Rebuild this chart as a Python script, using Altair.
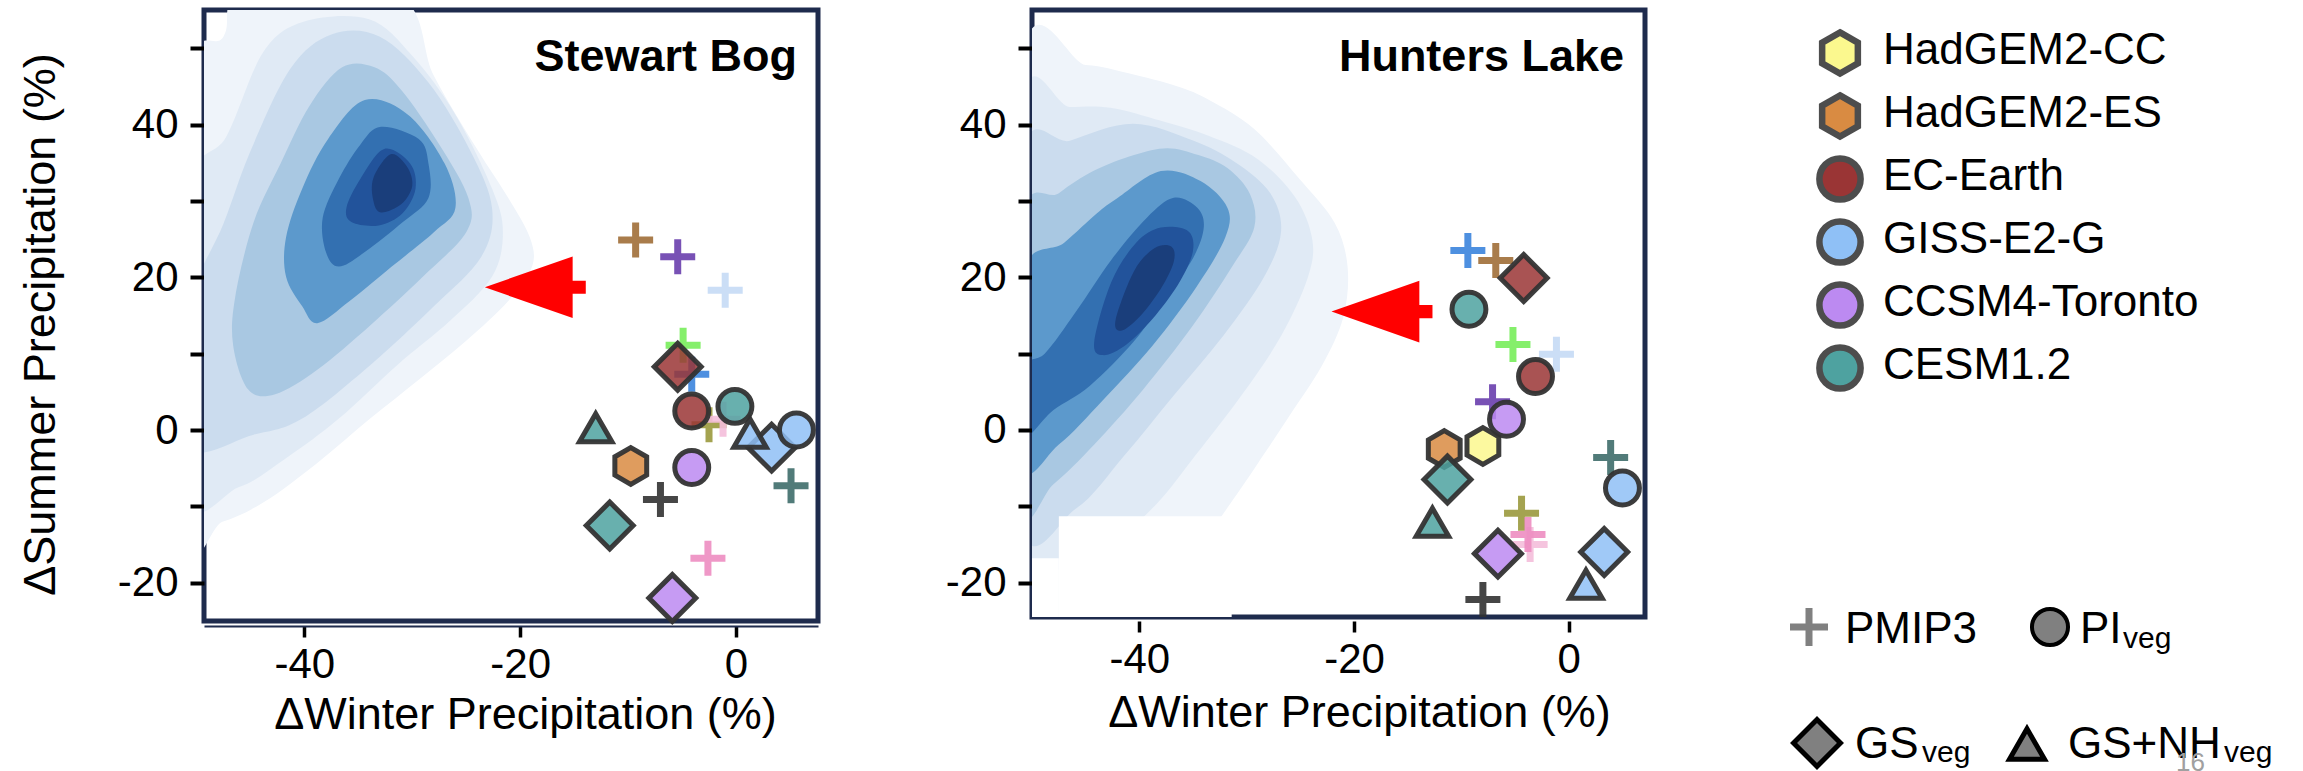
import altair as alt
import pandas as pd

FONT = "Liberation Sans"
FRAME = "#1e2b4d"
INK = "#000000"
OUTLINE = "#333333"

# Coupled-model simulations: fill colour identifies the model
MODELS = ["HadGEM2-CC", "HadGEM2-ES", "EC-Earth", "GISS-E2-G", "CCSM4-Toronto", "CESM1.2"]
MODEL_COLORS = ["#fbf88e", "#d98b42", "#9a3535", "#8fc0f6", "#bc8af1", "#4ea2a0"]

# PMIP3 ensemble members, one colour each
PMIP3_COLORS = ["#a06e38", "#6a3fae", "#c6dbf6", "#78ee5c", "#3b84dd",
                "#9b9a3e", "#f5bedb", "#ee8dc2", "#3f6d6b", "#333333"]
PMIP3_MEMBERS = [f"member {i + 1}" for i in range(len(PMIP3_COLORS))]

# Marker symbols
HEXAGON = "M0,-1L0.866,-0.5L0.866,0.5L0,1L-0.866,0.5L-0.866,-0.5Z"
PLUS = "M-1,0H1M0,-1V1"
ARROW = "M-1,0L0.74,-0.61L0.74,-0.13L1,-0.13L1,0.13L0.74,0.13L0.74,0.61Z"
SYMBOLS = ["hexagon", "circle", "diamond", "triangle"]
SYMBOL_SHAPES = [HEXAGON, "circle", "diamond", "triangle-up"]
SYMBOL_SIZES = [1350, 1150, 2200, 1050]

# Density levels of the proxy reconstruction (outer -> inner)
LEVELS = ["L1", "L2", "L3", "L4", "L5", "L6", "L7", "L8"]
LEVEL_COLORS = ["#eff4fa", "#e0eaf5", "#cbdcee", "#a9c8e2",
                "#5c99cc", "#3370b1", "#22539b", "#1a3e7b"]

# ---------------- Stewart Bog ----------------
sb_models = ["HadGEM2-ES", "CESM1.2", "CESM1.2", "CCSM4-Toronto", "CCSM4-Toronto",
             "EC-Earth", "CESM1.2", "EC-Earth", "GISS-E2-G", "GISS-E2-G", "GISS-E2-G"]
sb_runs = ["PI", "GS+NH", "GS", "PI", "GS", "GS", "PI", "PI", "GS", "GS+NH", "PI"]
sb_winter = [-9.75, -13.0, -11.7, -4.1, -5.9, -5.4, -0.1, -4.1, 3.3, 1.3, 5.6]
sb_summer = [-4.7, 0.3, -12.5, -4.9, -22.0, 8.3, 3.1, 2.5, -2.3, -0.4, 0.0]

sb_pmip_winter = [-9.3, -5.4, -1.0, -4.9, -4.1, -2.5, -1.2, -2.6, 5.1, -7.0]
sb_pmip_summer = [24.9, 22.7, 18.3, 11.1, 7.3, 0.7, 1.4, -16.8, -7.3, -9.1]

sb_arrow_winter = [-18.6]
sb_arrow_summer = [18.7]

sb_level1 = [(-51, 44), (-47.5, 51.5), (-45.5, 57), (-31.5, 57), (-28, 46.4), (-24, 36.8),
             (-21.1, 30.4), (-19.1, 25.2), (-18.9, 21.4), (-21.1, 16.9), (-25, 11.7),
             (-29.4, 6.6), (-33.9, 1.5), (-38.8, -4.3), (-43.7, -9.4), (-47.6, -12.0),
             (-51, -12.5)]
sb_level2 = [(-51, 30), (-47.2, 38.5), (-43.8, 49.5), (-40, 53.5), (-34, 53.8),
             (-30, 49), (-26, 41.3), (-22.6, 31.6), (-21.6, 25.9), (-22.6, 20.1),
             (-26.5, 14.3), (-31.4, 8.5), (-36.8, 1.5), (-41.7, -3.7), (-46.1, -7.5),
             (-51, -8)]
sb_level3 = [(-51, 15), (-47.5, 27), (-45, 36.5), (-41.3, 47.3), (-37.5, 51.8),
             (-33, 51.5), (-28.5, 45.5), (-24.6, 36.5), (-22.6, 29), (-23.6, 22.7),
             (-28, 16.2), (-33.9, 8.5), (-40.2, 1.5), (-44.7, -0.6), (-51, -2)]
sb_level4 = [(-46.6, 11.1), (-46.4, 17.5), (-44.7, 27.2), (-42.2, 34.9), (-39.5, 42.5),
             (-36.5, 47.5), (-33.5, 47.5), (-31.0, 44.5), (-27.5, 37.4), (-24.8, 30.4),
             (-25.0, 25.9), (-29.0, 20.1), (-33.9, 13.7), (-38.8, 7.9), (-42.7, 4.7),
             (-45.2, 5.3)]
sb_level5 = [(-34.4, 43.2), (-30.4, 41.3), (-27.0, 34.9), (-26.0, 29.1), (-28.0, 25.9),
             (-31.9, 21.4), (-35.8, 16.9), (-38.8, 14.0), (-40.2, 16.2), (-41.7, 20.1),
             (-41.7, 25.2), (-40.2, 31.6), (-37.8, 38.1)]
sb_level6 = [(-32.9, 39.7), (-29.4, 38.1), (-28.5, 34.9), (-28.5, 30.4), (-30.9, 27.2),
             (-34.4, 23.3), (-36.8, 21.4), (-38.0, 23.3), (-38.3, 27.8), (-36.8, 32.9),
             (-34.8, 37.4)]
sb_level7 = [(-32.6, 36.8), (-30.2, 34.9), (-29.7, 31.6), (-30.9, 28.4), (-33.1, 26.8),
             (-35.6, 27.2), (-36.1, 29.1), (-34.8, 32.9)]
sb_level8 = [(-32.0, 36.1), (-30.5, 34.5), (-30.0, 32.0), (-31.0, 29.6), (-32.9, 28.5),
             (-33.6, 30.0), (-33.6, 33.0)]

# ---------------- Hunters Lake ----------------
hl_models = ["HadGEM2-ES", "CESM1.2", "HadGEM2-CC", "CESM1.2", "CCSM4-Toronto", "EC-Earth",
             "CESM1.2", "EC-Earth", "CCSM4-Toronto", "GISS-E2-G", "GISS-E2-G", "GISS-E2-G"]
hl_runs = ["PI", "GS", "PI", "GS+NH", "PI", "PI", "PI", "GS", "GS", "PI", "GS+NH", "GS"]
hl_winter = [-11.6, -11.3, -8.0, -12.7, -5.8, -3.1, -9.3, -4.2, -6.6, 5.0, 1.6, 3.3]
hl_summer = [-2.5, -6.5, -2.1, -12.1, 1.4, 7.0, 15.8, 19.9, -16.2, -7.6, -20.2, -16.0]

hl_pmip_winter = [-6.8, -7.1, -1.15, -5.2, -9.4, -4.4, -3.6, -3.8, 3.9, -8.0]
hl_pmip_summer = [22.2, 3.7, 9.9, 11.2, 23.5, -10.9, -15.0, -13.7, -3.6, -22.2]

hl_arrow_winter = [-17.4]
hl_arrow_summer = [15.5]

hl_level1 = [(-51, -26), (-51, 47.5), (-45, 47.8), (-41, 46.7), (-36.5, 45), (-33.5, 43.2),
             (-29.3, 39.4), (-25.1, 32.9), (-21.8, 27.1), (-20.6, 21.3), (-21.0, 14.8),
             (-23.0, 8.4), (-26.0, 1.9), (-28.4, -3.2), (-30.9, -8.4), (-34.3, -14.8),
             (-38.4, -20.0), (-44, -24)]
hl_level2 = [(-51, -15), (-51, 42), (-46.5, 42.3), (-42.7, 42.2), (-38, 40.5),
             (-33.5, 38.5), (-29, 35.5), (-25.5, 30.5), (-23.9, 25), (-24.3, 20.0),
             (-26.8, 12.3), (-30.5, 4.5), (-34.7, -3.2), (-38.4, -9.7), (-42.6, -14.8),
             (-47, -18)]
hl_level3 = [(-51, -12), (-51, 35), (-46.4, 37.9), (-40.6, 40.1), (-35, 37.9), (-31, 35),
             (-27.8, 31), (-26.8, 26), (-28.4, 20.0), (-32.2, 12.3), (-36.8, 4.5),
             (-41.3, -3.2), (-45.9, -10.3)]
hl_level4 = [(-51, -9.5), (-51, 27), (-47.5, 31), (-44.3, 33.9), (-40.5, 36), (-37.4, 36.9),
             (-34.5, 36), (-31.8, 34.3), (-29.7, 30.9), (-29.3, 26.5), (-31.4, 21.3),
             (-35.1, 13.5), (-39.7, 5.2), (-44.2, -1.9), (-48.0, -7.1)]
hl_level5 = [(-51, -4.5), (-51, 20), (-47, 24.5), (-44, 28.3), (-42, 30.4), (-38, 33.9),
             (-34.3, 32.6), (-31.8, 29.1), (-32.0, 25.2), (-34.7, 18.7), (-38.8, 11.0),
             (-43.4, 3.9), (-47.5, -1.9)]
hl_level6 = [(-51, -1), (-51, 8), (-48.8, 10), (-45.9, 15.5), (-42.6, 22.3), (-39.3, 27.8),
             (-36.8, 30.4), (-34.6, 29.1), (-34.0, 26.5), (-35.0, 22.5), (-37.5, 17.5),
             (-40.5, 11.6), (-44.6, 5.8), (-48.0, 2.6)]
hl_level7 = [(-44.2, 11.6), (-42.6, 19.4), (-40.3, 24.5), (-38, 26.5), (-35.5, 26.1),
             (-35.0, 23.5), (-36.2, 19.5), (-38.5, 15.0), (-41.2, 11.2), (-43.4, 9.8)]
hl_level8 = [(-42.2, 14.5), (-40.5, 20.8), (-38.6, 23.8), (-37.0, 24.0), (-36.8, 22.0),
             (-38.0, 18.5), (-40.0, 14.8), (-41.7, 13.0)]

# Lower-left corner of the Hunters Lake density that is left blank
hl_blank_w = [-47.5, -51]
hl_blank_w2 = [-31.4, -47.5]
hl_blank_s = [-26, -26]
hl_blank_s2 = [-11.3, -16.8]


def symbol_of(model, run):
    if model.startswith("HadGEM2"):
        return "hexagon"
    return {"PI": "circle", "GS": "diamond", "GS+NH": "triangle"}[run]


def contour_frame(levels):
    rows = []
    for name, verts in zip(LEVELS, levels):
        for i, (w, s) in enumerate(verts):
            rows.append({"level": name, "i": i, "w": w, "s": s})
    return pd.DataFrame(rows)


fill_scale = alt.Scale(domain=MODELS, range=MODEL_COLORS)
shape_scale = alt.Scale(domain=SYMBOLS, range=SYMBOL_SHAPES)
size_scale = alt.Scale(type="ordinal", domain=SYMBOLS, range=SYMBOL_SIZES)
level_scale = alt.Scale(domain=LEVELS, range=LEVEL_COLORS)
member_scale = alt.Scale(domain=PMIP3_MEMBERS, range=PMIP3_COLORS)


def panel(site, models, runs, winter, summer, pm_w, pm_s, ar_w, ar_s, levels,
          xdom, ydom, width, height, y_title, x_offset, x_domain_line,
          xtitle_xy, ytitle_xy, blank=None):
    x_axis = alt.Axis(
        values=[-40, -20, 0], labelExpr="'' + datum.value", grid=False,
        tickSize=11, tickWidth=3.5, tickColor=INK, labelFontSize=42, labelFont=FONT,
        labelColor=INK, labelPadding=7, labelFlush=False, labelOverlap=False,
        domain=x_domain_line, domainColor=FRAME, domainWidth=2, offset=x_offset,
        titleFontSize=45, titleFont=FONT, titleFontWeight="normal", titleColor=INK,
        titleX=xtitle_xy[0], titleY=xtitle_xy[1], titleBaseline="alphabetic",
        titleAlign="center",
    )
    y_axis = alt.Axis(
        values=[-20, -10, 0, 10, 20, 30, 40, 50],
        labelExpr="datum.value % 20 === 0 ? '' + datum.value : ''", grid=False,
        tickSize=14, tickWidth=4, tickColor=INK, labelFontSize=42, labelFont=FONT,
        labelColor=INK, labelPadding=12, labelFlush=False, labelOverlap=False,
        domain=False, titleFontSize=45, titleFont=FONT, titleFontWeight="normal",
        titleColor=INK, titleAngle=270, titleX=ytitle_xy[0], titleY=ytitle_xy[1],
        titleBaseline="alphabetic", titleAlign="center",
    )
    X = alt.X("w:Q", scale=alt.Scale(domain=xdom, nice=False, zero=False),
              axis=x_axis, title="ΔWinter Precipitation (%)")
    Y = alt.Y("s:Q", scale=alt.Scale(domain=ydom, nice=False, zero=False),
              axis=y_axis, title=y_title)

    density = alt.Chart(contour_frame(levels)).mark_line(
        filled=True, interpolate="cardinal-closed", clip=True, strokeWidth=0
    ).encode(
        x=X, y=Y,
        color=alt.Color("level:N", scale=level_scale, legend=None),
        order=alt.Order("i:Q"),
    )
    layers = [density]

    if blank is not None:
        bdf = pd.DataFrame({"w": blank[0], "w2": blank[1], "s": blank[2], "s2": blank[3]})
        layers.append(
            alt.Chart(bdf).mark_rect(color="white", clip=True).encode(
                x=X, x2="w2:Q", y=Y, y2="s2:Q"
            )
        )

    pdf = pd.DataFrame({"member": PMIP3_MEMBERS, "w": pm_w, "s": pm_s})
    layers.append(
        alt.Chart(pdf).mark_point(
            shape=PLUS, filled=False, size=1225, strokeWidth=7, opacity=0.9
        ).encode(
            x=X, y=Y, stroke=alt.Stroke("member:N", scale=member_scale, legend=None)
        )
    )

    mdf = pd.DataFrame({
        "model": models, "run": runs, "w": winter, "s": summer,
        "sym": [symbol_of(m, r) for m, r in zip(models, runs)],
    })
    layers.append(
        alt.Chart(mdf).mark_point(
            filled=True, stroke=OUTLINE, strokeWidth=5, opacity=1,
            fillOpacity=0.85, strokeOpacity=0.95
        ).encode(
            x=X, y=Y,
            fill=alt.Fill("model:N", scale=fill_scale, legend=None),
            shape=alt.Shape("sym:N", scale=shape_scale, legend=None),
            size=alt.Size("sym:N", scale=size_scale, legend=None),
        )
    )

    adf = pd.DataFrame({"w": ar_w, "s": ar_s})
    layers.append(
        alt.Chart(adf).mark_point(
            shape=ARROW, filled=True, fill="#ff0000", size=10200, opacity=1, strokeWidth=0
        ).encode(x=X, y=Y)
    )

    layers.append(
        alt.Chart(pd.DataFrame({"site": [site]})).mark_text(
            align="right", baseline="alphabetic", fontSize=45, fontWeight="bold",
            font=FONT, color=INK
        ).encode(text="site:N", x=alt.value(width - 21), y=alt.value(61))
    )

    return alt.layer(*layers).properties(
        width=width, height=height,
        view=alt.ViewBackground(stroke=FRAME, strokeWidth=5, fill="white"),
    )


stewart = panel(
    "Stewart Bog", sb_models, sb_runs, sb_winter, sb_summer,
    sb_pmip_winter, sb_pmip_summer, sb_arrow_winter, sb_arrow_summer,
    [sb_level1, sb_level2, sb_level3, sb_level4, sb_level5, sb_level6, sb_level7, sb_level8],
    xdom=[-49.3, 7.6], ydom=[-25, 55], width=614, height=611,
    y_title="ΔSummer Precipitation (%)", x_offset=5, x_domain_line=True,
    xtitle_xy=(321, 102), ytitle_xy=(-150, 314),
)

hunters = panel(
    "Hunters Lake", hl_models, hl_runs, hl_winter, hl_summer,
    hl_pmip_winter, hl_pmip_summer, hl_arrow_winter, hl_arrow_summer,
    [hl_level1, hl_level2, hl_level3, hl_level4, hl_level5, hl_level6, hl_level7, hl_level8],
    xdom=[-50.0, 7.1], ydom=[-24.5, 55], width=613, height=607,
    y_title=None, x_offset=4, x_domain_line=False,
    xtitle_xy=(327, 105), ytitle_xy=(-150, 314),
    blank=(hl_blank_w, hl_blank_w2, hl_blank_s, hl_blank_s2),
)

# ---------------- Key ----------------
legend_df = pd.DataFrame({"model": MODELS, "sym": [symbol_of(m, "PI") for m in MODELS]})
leg_y = alt.Y("model:N", scale=alt.Scale(type="point", domain=MODELS, range=[43, 358], padding=0),
              axis=None)

key_symbols = alt.Chart(legend_df).mark_point(
    filled=True, stroke="#4d4d4d", strokeWidth=6.5, size=1700, opacity=1
).encode(
    x=alt.value(-19), y=leg_y,
    fill=alt.Fill("model:N", scale=fill_scale, legend=None),
    shape=alt.Shape("sym:N", scale=shape_scale, legend=None),
)
key_labels = alt.Chart(legend_df).mark_text(
    align="left", baseline="alphabetic", dy=11, fontSize=44, font=FONT, color=INK
).encode(x=alt.value(24), y=leg_y, text="model:N")


def key_text(text, x, y, size=44, color=INK):
    return alt.Chart(pd.DataFrame({"t": [text]})).mark_text(
        align="left", baseline="alphabetic", fontSize=size, font=FONT, color=color
    ).encode(text="t:N", x=alt.value(x), y=alt.value(y))


def key_symbol(shape, x, y, size, fill, stroke, stroke_width, filled=True):
    return alt.Chart(pd.DataFrame({"k": [shape]})).mark_point(
        shape=shape, size=size, filled=filled, fill=fill if filled else "transparent",
        stroke=stroke, strokeWidth=stroke_width, opacity=1
    ).encode(x=alt.value(x), y=alt.value(y))


key_layers = [
    key_symbols, key_labels,
    key_symbol(PLUS, -50, 617, 1444, "#808080", "#808080", 7, filled=False),
    key_text("PMIP3", -14, 633),
    key_symbol("circle", 191, 617, 1300, "#808080", INK, 4),
    key_text("PI", 221, 633),
    key_text("veg", 264, 638, size=30),
    key_symbol("diamond", -42, 733, 2200, "#808080", INK, 5),
    key_text("GS", -4, 748),
    key_text("veg", 63, 752, size=30),
    key_symbol("triangle-up", 168, 734, 1225, "#808080", INK, 5),
    key_text("GS+NH", 209, 748),
    key_text("veg", 365, 752, size=30),
    key_text("16", 317, 761, size=26, color="#a0a0a0"),
]

key = alt.layer(*key_layers).properties(
    width=420, height=611,
    view=alt.ViewBackground(stroke="transparent", strokeWidth=0),
)

chart = alt.hconcat(stewart, hunters, key, spacing=214, bounds="flush").properties(
    padding={"left": 15, "top": 7, "right": 0, "bottom": 0},
    background="white",
).configure_text(font=FONT)

chart.save("out.html", embed_options={"renderer": "svg", "actions": False})
